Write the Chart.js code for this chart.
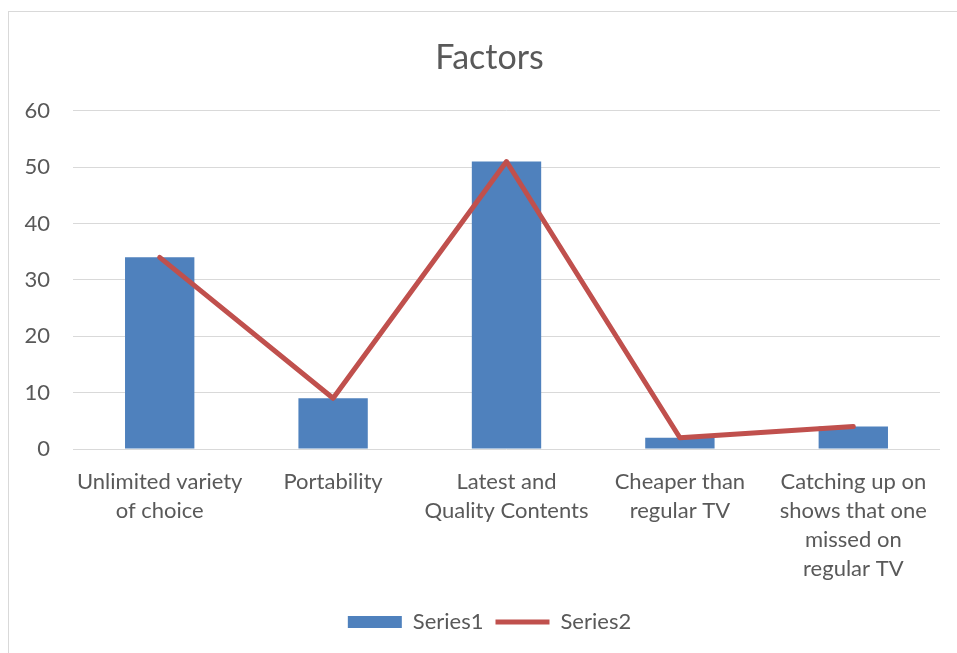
<!DOCTYPE html>
<html>
<head>
<meta charset="utf-8">
<script src="https://cdn.jsdelivr.net/npm/chart.js@4/dist/chart.umd.min.js"></script>
<style>
html,body{margin:0;padding:0;background:#fff;}
#wrap{position:absolute;left:0;top:0;width:957px;height:653px;}
</style>
</head>
<body>
<div id="wrap"><canvas id="c" width="957" height="653"></canvas></div>
<script>
const categories = [
  ["Unlimited variety", "of choice"],
  ["Portability"],
  ["Latest and", "Quality Contents"],
  ["Cheaper than", "regular TV"],
  ["Catching up on", "shows that one", "missed on", "regular TV"]
];
const series1 = [34, 9, 51, 2, 4];
const series2 = [34, 9, 51, 2, 4];
const seriesNames = ["Series1", "Series2"];
const chartTitle = "Factors";
const yMin = 0, yMax = 60, yStep = 10;

const TXT = '#595959';
const FONT = 'Lato, "Open Sans", sans-serif';

const borderPlugin = {
  id: 'outerBorder',
  beforeDraw(chart) {
    const ctx = chart.ctx;
    ctx.save();
    ctx.fillStyle = '#fff';
    ctx.fillRect(0, 0, chart.width, chart.height);
    ctx.strokeStyle = '#d9d9d9';
    ctx.lineWidth = 1;
    ctx.strokeRect(8.5, 11.5, 980, 680);
    ctx.restore();
  }
};

new Chart(document.getElementById('c'), {
  data: {
    labels: categories,
    datasets: [
      {
        type: 'line',
        label: seriesNames[1],
        data: series2,
        borderColor: '#C0504D',
        backgroundColor: '#C0504D',
        borderWidth: 5,
        pointRadius: 0,
        pointHoverRadius: 0,
        tension: 0,
        borderCapStyle: 'round',
        borderJoinStyle: 'round',
        pointStyle: 'line',
        order: 1
      },
      {
        type: 'bar',
        label: seriesNames[0],
        data: series1,
        backgroundColor: '#4F81BD',
        borderWidth: 0,
        categoryPercentage: 1,
        barPercentage: 0.4,
        pointStyle: 'rect',
        order: 2
      }
    ]
  },
  options: {
    responsive: false,
    animation: false,
    devicePixelRatio: 1,
    layout: { padding: { left: 22, right: 0, top: 0, bottom: 10 } },
    plugins: {
      title: {
        display: true,
        text: chartTitle,
        color: TXT,
        font: { family: FONT, size: 34, weight: 'normal', lineHeight: 1.2 },
        padding: { top: 38, bottom: 32 }
      },
      legend: {
        position: 'bottom',
        reverse: true,
        labels: {
          color: TXT,
          font: { family: FONT, size: 22 },
          usePointStyle: true,
          pointStyleWidth: 54,
          boxHeight: 12,
          padding: 12
        }
      },
      tooltip: { enabled: false }
    },
    scales: {
      x: {
        grid: { display: false },
        border: { display: false },
        ticks: {
          color: TXT,
          font: { family: FONT, size: 22, lineHeight: 1.32 },
          maxRotation: 0,
          autoSkip: false,
          padding: 10
        },
        afterFit(s) { s.height = 150; }
      },
      y: {
        min: yMin,
        max: yMax,
        grid: { color: '#d9d9d9', lineWidth: 1, drawTicks: false },
        border: { display: false },
        ticks: {
          stepSize: yStep,
          color: TXT,
          font: { family: FONT, size: 22 },
          padding: 23
        },
        afterFit(s) { s.width = 51; }
      },
      y2: {
        position: 'right',
        display: true,
        grid: { display: false },
        border: { display: false },
        ticks: { display: false },
        afterFit(s) { s.width = 17; }
      }
    }
  },
  plugins: [borderPlugin]
});
</script>
</body>
</html>
